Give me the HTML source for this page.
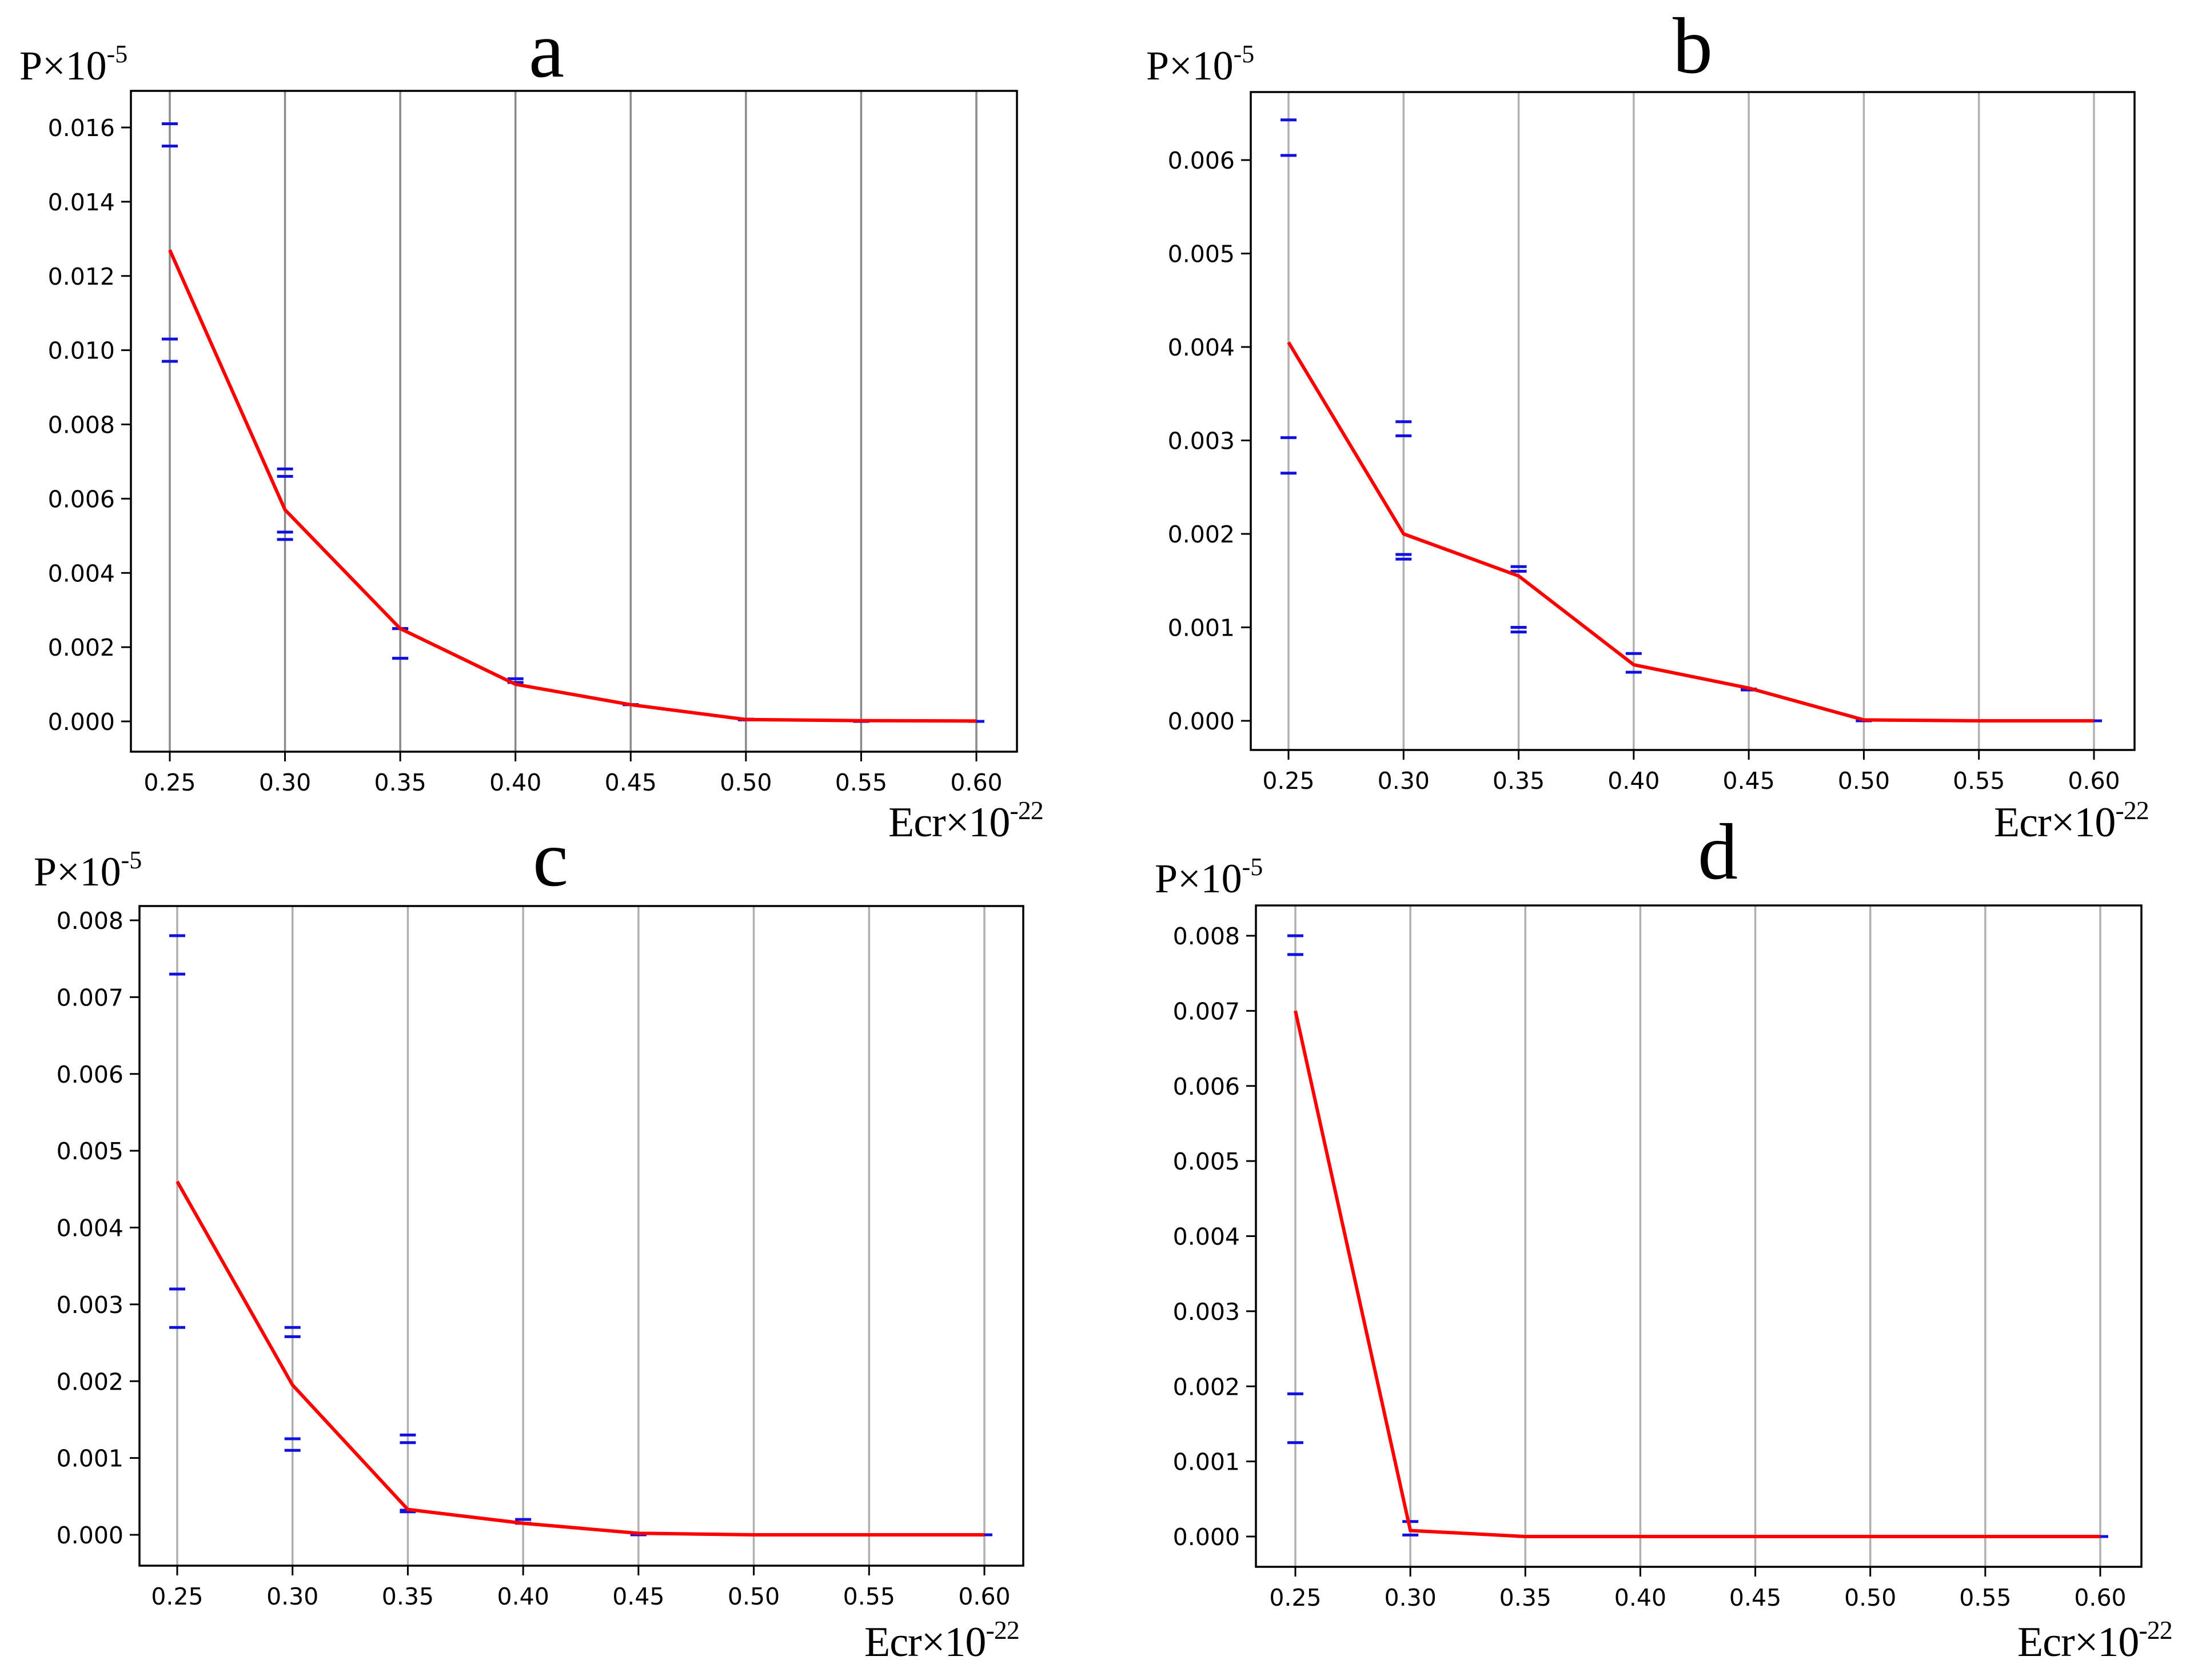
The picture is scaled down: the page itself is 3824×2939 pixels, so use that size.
<!DOCTYPE html>
<html><head><meta charset="utf-8">
<style>
html,body{margin:0;padding:0;background:#fff;}
svg{display:block;}
.tick{font-family:"DejaVu Sans",sans-serif;font-size:41px;fill:#000;}
.serif{font-family:"Liberation Serif",serif;fill:#000;}
</style></head>
<body>
<svg id="fig" xmlns="http://www.w3.org/2000/svg" width="3824" height="2939" viewBox="0 0 3824 2939"></svg>
<script>
// shared x categories
const xValues = [0.25,0.30,0.35,0.40,0.45,0.50,0.55,0.60];
const xTickLabels = ["0.25","0.30","0.35","0.40","0.45","0.50","0.55","0.60"];

// panel a
const aLine = [0.0127,0.0057,0.0025,0.0010,0.00045,0.00005,0.00002,0.00001];
const aCaps = [[0.0161,0.0155,0.0103,0.0097],[0.0068,0.0066,0.0051,0.0049],[0.0025,0.0025,0.0017,0.0017],[0.00115,0.00105],[0.00045,0.00045],[0.00006,0.00004],[0.00001,0.0],[0.0,0.0]];
const aYTicks = [0,0.002,0.004,0.006,0.008,0.010,0.012,0.014,0.016];
// panel b
const bLine = [0.00405,0.0020,0.00155,0.0006,0.00035,0.00001,0.0,0.0];
const bCaps = [[0.00643,0.00605,0.00303,0.00265],[0.0032,0.00305,0.00178,0.00173],[0.00165,0.0016,0.001,0.00095],[0.00072,0.00052],[0.00034,0.00033],[0,0],[0,0],[0,0]];
const bYTicks = [0,0.001,0.002,0.003,0.004,0.005,0.006];
// panel c
const cLine = [0.0046,0.00195,0.00033,0.00015,0.00002,0.0,0.0,0.0];
const cCaps = [[0.0078,0.0073,0.0032,0.0027],[0.0027,0.00258,0.00125,0.0011],[0.0013,0.0012,0.00032,0.0003],[0.0002,0.00015],[0,0],[0,0],[0,0],[0,0]];
const cYTicks = [0,0.001,0.002,0.003,0.004,0.005,0.006,0.007,0.008];
// panel d
const dLine = [0.0070,0.00008,0.0,0.0,0.0,0.0,0.0,0.0];
const dCaps = [[0.0080,0.00775,0.0019,0.00125],[0.0002,0.00002],[0,0],[0,0],[0,0],[0,0],[0,0],[0,0]];
const dYTicks = [0,0.001,0.002,0.003,0.004,0.005,0.006,0.007,0.008];

const NS="http://www.w3.org/2000/svg";
const svg=document.getElementById('fig');
function mk(tag,attrs,parent){const e=document.createElementNS(NS,tag);for(const k in attrs)e.setAttribute(k,attrs[k]);(parent||svg).appendChild(e);return e;}

const panels=[
 {id:'a',line:aLine,caps:aCaps,yt:aYTicks,dec:3,frame:[229,159,1779,1315],x0:297,x1:1708,yTop:0.016,yTopPx:223,y0Px:1262,grid:'#8a8a8a',
  title:[956,134],ylab:[34,139],xlab:[1554,1463]},
 {id:'b',line:bLine,caps:bCaps,yt:bYTicks,dec:3,frame:[2188,161,3734,1312],x0:2254,x1:3663,yTop:0.006,yTopPx:280,y0Px:1261,grid:'#b0b0b0',
  title:[2961,127],ylab:[2005,139],xlab:[3488,1463]},
 {id:'c',line:cLine,caps:cCaps,yt:cYTicks,dec:3,frame:[244,1585,1790,2739],x0:310,x1:1722,yTop:0.008,yTopPx:1610,y0Px:2685,grid:'#b0b0b0',
  title:[963,1549],ylab:[59,1549],xlab:[1512,2897]},
 {id:'d',line:dLine,caps:dCaps,yt:dYTicks,dec:3,frame:[2197,1584,3746,2741],x0:2266,x1:3674,yTop:0.008,yTopPx:1637,y0Px:2688,grid:'#b0b0b0',
  title:[3005,1537],ylab:[2020,1561],xlab:[3529,2897]}
];

panels.forEach(p=>{
  const g=mk('g',{});
  
  
  const X=v=>p.x0+(v-xValues[0])/(xValues[xValues.length-1]-xValues[0])*(p.x1-p.x0);
  const Y=v=>p.y0Px+v/p.yTop*(p.yTopPx-p.y0Px);
  const [l,t,r,b]=p.frame;
  xValues.forEach((v,i)=>{
    const gl=mk('line',{x1:X(v),x2:X(v),y1:t,y2:b,stroke:p.grid,'stroke-width':3.5},g);
    
    
  });
  xValues.forEach((v,i)=>{
    mk('line',{x1:X(v),x2:X(v),y1:b,y2:b+17,stroke:'#000','stroke-width':3},g);
    const tx=mk('text',{x:X(v),y:b+68,'text-anchor':'middle',class:'tick'},g);
    tx.textContent=xTickLabels[i];
    
    
  });
  p.yt.forEach(v=>{
    mk('line',{x1:l-17,x2:l,y1:Y(v),y2:Y(v),stroke:'#000','stroke-width':3},g);
    const ty=mk('text',{x:l-28,y:Y(v)+15,'text-anchor':'end',class:'tick'},g);
    ty.textContent=v.toFixed(p.dec);
    
    
  });
  p.caps.forEach((arr,i)=>{
    arr.forEach(v=>{
      const c=mk('line',{x1:X(xValues[i])-14,x2:X(xValues[i])+14,y1:Y(v),y2:Y(v),stroke:'#1010e0','stroke-width':5},g);
      
      
    });
  });
  const pts=p.line.map((v,i)=>X(xValues[i])+','+Y(v)).join(' ');
  const pl=mk('polyline',{points:pts,fill:'none',stroke:'#ff0000','stroke-width':6,'stroke-linejoin':'round'},g);
  
  
  const fr=mk('rect',{x:l,y:t,width:r-l,height:b-t,fill:'none',stroke:'#000','stroke-width':3.5},g);
  
  
  const ti=mk('text',{x:p.title[0],y:p.title[1],'text-anchor':'middle',class:'serif','font-size':140},g);
  ti.textContent=p.id;
  
  
  const yl=mk('text',{x:p.ylab[0],y:p.ylab[1],class:'serif','font-size':72},g);
  yl.innerHTML='P×10<tspan font-size="44" dy="-30">-5</tspan>';
  
  
  const xl=mk('text',{x:p.xlab[0],y:p.xlab[1],class:'serif','font-size':74,'letter-spacing':-1},g);
  xl.innerHTML='Ecr×10<tspan font-size="46" dy="-30">-22</tspan>';
  
  
});
</script>
</body></html>
